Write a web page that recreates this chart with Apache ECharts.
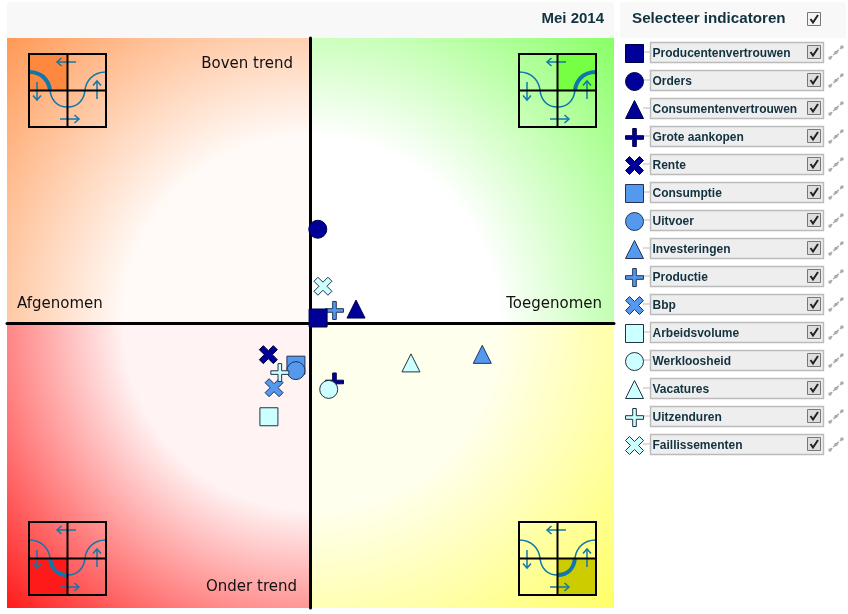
<!DOCTYPE html>
<html><head><meta charset="utf-8">
<style>html,body{margin:0;padding:0;background:#fff}#c{width:848px;height:614px}</style>
<script src="https://cdn.jsdelivr.net/npm/echarts@6/dist/echarts.min.js"></script>
</head><body><div id="c"></div>
<script>
const names = ['Producentenvertrouwen','Orders','Consumentenvertrouwen','Grote aankopen','Rente','Consumptie','Uitvoer','Investeringen','Productie','Bbp','Arbeidsvolume','Werkloosheid','Vacatures','Uitzenduren','Faillissementen'];
const xValues = [2.5,2.4,15.0,7.9,-13.9,-4.8,-4.8,56.6,7.9,-12.0,-13.7,6.0,33.1,-10.1,4.1];
const yValues = [1.75,32.9,4.9,-20.7,-11.1,-14.8,-16.7,-11.0,4.4,-22.7,-32.9,-23.3,-14.0,-17.4,12.9];
const shades = ['#000099','#5599ee','#ccffff'];
const borders = ['#000044','#223355','#223344'];
const plusPath = 'path://M7.2 0H10.8V7.2H18V10.8H10.8V18H7.2V10.8H0V7.2H7.2Z';
const crossPath = 'path://M4 0L9 5L14 0L18 4L13 9L18 14L14 18L9 13L4 18L0 14L5 9L0 4Z';
const shapes = ['rect','circle','triangle',plusPath,crossPath];
const zOrder = [9,5,5,2,5,3,4,5,3,3,5,5,5,6,5];
const quadrants = [
  {label:'Boven trend',color:'#ff9955',inner:'#fffaf7',hi:'#ff8840',cx:0,cy:0,x:7,y:38,w:303.5,h:285,lx:293,ly:64,align:'right',q:0},
  {label:'Toegenomen',color:'#88ff66',inner:'#ffffff',hi:'#77ff44',cx:490,cy:0,x:310.5,y:38,w:303.5,h:285,lx:602,ly:304,align:'right',q:1},
  {label:'Afgenomen',color:'#ff1a1a',inner:'#fff3f3',hi:'#ff1a1a',cx:0,cy:468,x:7,y:323,w:303.5,h:285,lx:17,ly:304,align:'left',q:2},
  {label:'Onder trend',color:'#ffff66',inner:'#ffffee',hi:'#cccc00',cx:490,cy:468,x:310.5,y:323,w:303.5,h:285,lx:297,ly:587,align:'right',q:3}
];
const chart = echarts.init(document.getElementById('c'));
const g = [];
const CX=310.5, CY=323;
g.push({type:'rect',z:-20,shape:{x:7,y:2,width:607,height:36,r:[4,4,0,0]},style:{fill:'#f8f8f8'}});
g.push({type:'rect',z:-20,shape:{x:620,y:2,width:226,height:36,r:[4,4,0,0]},style:{fill:'#f8f8f8'}});
g.push({type:'text',z:1,style:{x:604,y:19,text:'Mei 2014',align:'right',verticalAlign:'middle',font:'bold 15px "Liberation Sans"',fill:'#12323f'}});
g.push({type:'text',z:1,style:{x:632,y:19,text:'Selecteer indicatoren',verticalAlign:'middle',font:'bold 15.2px "Liberation Sans"',fill:'#12323f'}});
function checkbox(x,y,fill){
  g.push({type:'rect',z:2,shape:{x:x,y:y,width:13,height:13},style:{fill:fill,stroke:'#777',lineWidth:1}});
  g.push({type:'polyline',z:3,shape:{points:[[x+3,y+6.5],[x+5.5,y+10],[x+10.5,y+2.5]]},style:{fill:'none',stroke:'#222',lineWidth:2}});
}
checkbox(807.5,12.5,'#f4f4f4');
names.forEach((n,i)=>{
  const cy=52+28*i;
  g.push({type:'line',z:1,shape:{x1:643,y1:cy,x2:650,y2:cy},style:{stroke:'#bbb',lineWidth:1}});
  g.push({type:'rect',z:1,shape:{x:650.5,y:cy-9.5,width:173,height:20},style:{fill:'#eeeeee',stroke:'#bbbbbb',lineWidth:1.4}});
  checkbox(807.5,cy-6.5,'#dddddd');
  g.push({type:'line',z:1,shape:{x1:830,y1:cy+6,x2:842,y2:cy-5},style:{stroke:'#aaa',lineWidth:1.5,lineDash:[3,1.5]}});
  [[830,cy+6],[836,cy+.5],[842,cy-5]].forEach(p=>g.push({type:'circle',z:1,shape:{cx:p[0],cy:p[1],r:1.7},style:{fill:'#aaa'}}));
});
quadrants.forEach(q=>{
  g.push({type:'rect',z:-10,shape:{x:q.x,y:q.y,width:q.w,height:q.h},style:{fill:new echarts.graphic.RadialGradient(CX,CY,416,[
    {offset:0,color:q.inner},{offset:.45,color:q.inner},{offset:1,color:q.color}],true)}});
  g.push({type:'text',z:1,style:{x:q.lx,y:q.ly,text:q.label,align:q.align,verticalAlign:'middle',font:'15px "DejaVu Sans"',fill:'#111'}});
  const dx=q.cx, dy=q.cy;
  const hiX = (q.q%2)? 67.5+dx : 29+dx, hiY = q.q<2 ? 54+dy : 90.5+dy;
  g.push({type:'rect',z:1,shape:{x:hiX,y:hiY,width:38.5,height:36.5},style:{fill:q.hi}});
  const segs=[
    [29,72,43,72,49,82,50,90],[50,90,51,100,57,107,67.5,107],
    [67.5,107,78,107,84,100,85,90],[85,90,86,82,92,72,106,72]];
  const thick = q.q===0?[0]:q.q===1?[3]:q.q===2?[1]:[2];
  segs.forEach((s,i)=>{
    g.push({type:'bezierCurve',z:2,shape:{x1:s[0]+dx,y1:s[1]+dy,cpx1:s[2]+dx,cpy1:s[3]+dy,cpx2:s[4]+dx,cpy2:s[5]+dy,x2:s[6]+dx,y2:s[7]+dy},
      style:{fill:'none',stroke:'#1177aa',lineWidth:thick.includes(i)?4:1.6}});
  });
  const arrows=[[76,62,57,62],[37,82,37,100],[60,119,79,119],[97,99,97,81]];
  arrows.forEach(a=>{
    g.push({type:'line',z:2,shape:{x1:a[0]+dx,y1:a[1]+dy,x2:a[2]+dx,y2:a[3]+dy},style:{stroke:'#1177aa',lineWidth:1.5}});
    const sx=Math.sign(a[2]-a[0]), sy=Math.sign(a[3]-a[1]);
    const ex=a[2]+dx, ey=a[3]+dy;
    g.push({type:'polyline',z:2,shape:{points: sx? [[ex-sx*4.5,ey-4],[ex,ey],[ex-sx*4.5,ey+4]] : [[ex-4,ey-sy*4.5],[ex,ey],[ex+4,ey-sy*4.5]]},style:{fill:'none',stroke:'#1177aa',lineWidth:1.5}});
  });
  g.push({type:'rect',z:3,shape:{x:29+dx,y:54+dy,width:77,height:73},style:{fill:'none',stroke:'#000',lineWidth:2}});
  g.push({type:'line',z:3,shape:{x1:67.5+dx,y1:54+dy,x2:67.5+dx,y2:127+dy},style:{stroke:'#000',lineWidth:2}});
  g.push({type:'line',z:3,shape:{x1:29+dx,y1:90.5+dy,x2:106+dx,y2:90.5+dy},style:{stroke:'#000',lineWidth:2}});
});
const axis={min:-100,max:100,axisTick:{show:false},axisLabel:{show:false},splitLine:{show:false},
  axisLine:{show:true,onZero:true,lineStyle:{color:'#000',width:3}}};
chart.setOption({
  animation:false,
  grid:{left:7,top:38,width:607,height:570},
  xAxis:Object.assign({type:'value'},axis),
  yAxis:Object.assign({type:'value'},axis),
  legend:{left:625,top:44,orient:'vertical',itemWidth:18,itemHeight:18,itemGap:9,selectedMode:false,
    padding:0,data:names,itemStyle:{borderWidth:1},
    textStyle:{fontFamily:'Liberation Sans',fontWeight:'bold',fontSize:12,color:'#12323f',padding:[0,0,0,4]}},
  graphic:{elements:g},
  series:names.map((n,i)=>({
    name:n,type:'scatter',z:zOrder[i]+2,symbol:shapes[i%5],symbolSize:18,
    itemStyle:{color:shades[Math.floor(i/5)],borderColor:borders[Math.floor(i/5)],borderWidth:1,opacity:1},
    data:[[xValues[i],yValues[i]]]
  }))
});
</script></body></html>
